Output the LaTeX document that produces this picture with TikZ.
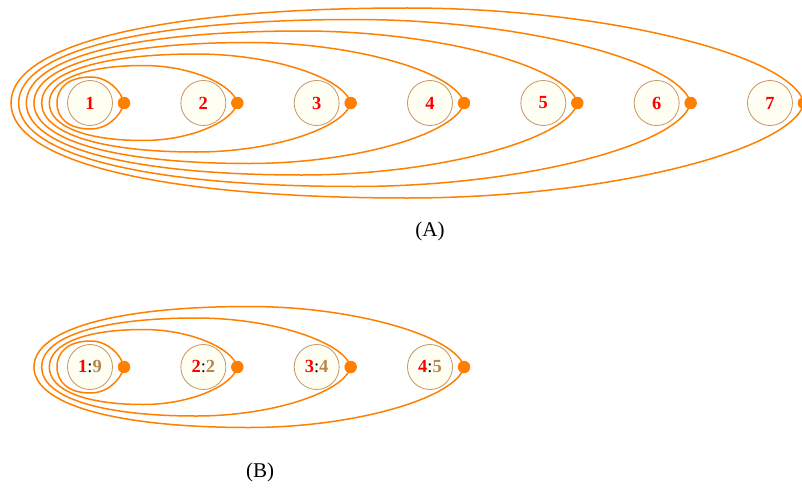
\documentclass[tikz,border=0pt]{standalone}
\usepackage{fontspec}
\setmainfont{Liberation Serif}
\definecolor{loopc}{HTML}{FF8000}
\definecolor{nodefill}{HTML}{FFFEF2}
\definecolor{nodedraw}{HTML}{C49462}
\definecolor{numred}{HTML}{FF0000}
\definecolor{numtan}{HTML}{B8864B}
\tikzset{
  vnode/.style={circle, draw=nodedraw, fill=nodefill, line width=0.8pt, minimum size=45pt, inner sep=0pt, font=\fontsize{18.5}{18.5}\selectfont\bfseries, text=numred},
  vdot/.style={circle, fill=loopc, minimum size=12.5pt, inner sep=0pt},
  loopline/.style={draw=loopc, line width=1.5pt},
  caption/.style={font=\fontsize{21}{21}\selectfont}
}
\newcommand{\teardrop}[5]{% dot name, xL, xR, y0, h
  \pgfmathsetmacro{\xc}{(#2+#3)/2}
  \pgfmathsetmacro{\aa}{(#3-#2)/2}
  \pgfmathsetmacro{\hh}{#5}
  \draw[loopline] (#1.center)
    .. controls ({#3-0.12*\hh},{#4-0.5*\hh}) and ({\xc+0.5*\aa},{#4-\hh}) .. (\xc,{#4-\hh})
    .. controls ({\xc-0.62*\aa},{#4-\hh}) and (#2,{#4-0.62*\hh}) .. (#2,#4)
    .. controls (#2,{#4+0.62*\hh}) and ({\xc-0.62*\aa},{#4+\hh}) .. (\xc,{#4+\hh})
    .. controls ({\xc+0.5*\aa},{#4+\hh}) and ({#3-0.12*\hh},{#4+0.5*\hh}) .. (#1.center);
}
\begin{document}
\begin{tikzpicture}[x=1pt,y=-1pt]
\useasboundingbox (0,0) rectangle (802,487);
% (A)
\foreach \k in {1,...,7}{
  \pgfmathsetmacro{\nx}{90+113.33*(\k-1)}
  \node[vnode] (a\k) at (\nx,103) {\k};
  \node[vdot] (da\k) at (\nx+34,103) {};
}
\foreach \k in {1,...,7}{
  \pgfmathsetmacro{\xR}{90+113.33*(\k-1)+34}
  \pgfmathsetmacro{\xL}{57-7.67*(\k-1)}
  \pgfmathsetmacro{\hv}{26+11.5*(\k-1)}
  \teardrop{da\k}{\xL}{\xR}{103}{\hv}
}
\node[caption] (capA) at (430,231) {(A)};
% (B)
\node[vnode] (b1) at (90,367) {1\textcolor{black}{\mdseries:}\textcolor{numtan}{9}};
\node[vnode] (b2) at (203.33,367) {2\textcolor{black}{\mdseries:}\textcolor{numtan}{2}};
\node[vnode] (b3) at (316.67,367) {3\textcolor{black}{\mdseries:}\textcolor{numtan}{4}};
\node[vnode] (b4) at (430,367) {4\textcolor{black}{\mdseries:}\textcolor{numtan}{5}};
\foreach \k in {1,...,4}{
  \node[vdot] (db\k) at ([xshift=34pt]b\k.center) {};
}
\foreach \k in {1,...,4}{
  \pgfmathsetmacro{\xR}{90+113.33*(\k-1)+34}
  \pgfmathsetmacro{\xL}{57-7.67*(\k-1)}
  \pgfmathsetmacro{\hv}{26+11.5*(\k-1)}
  \teardrop{db\k}{\xL}{\xR}{367}{\hv}
}
\node[caption] (capB) at (260,472) {(B)};
\end{tikzpicture}
\end{document}
